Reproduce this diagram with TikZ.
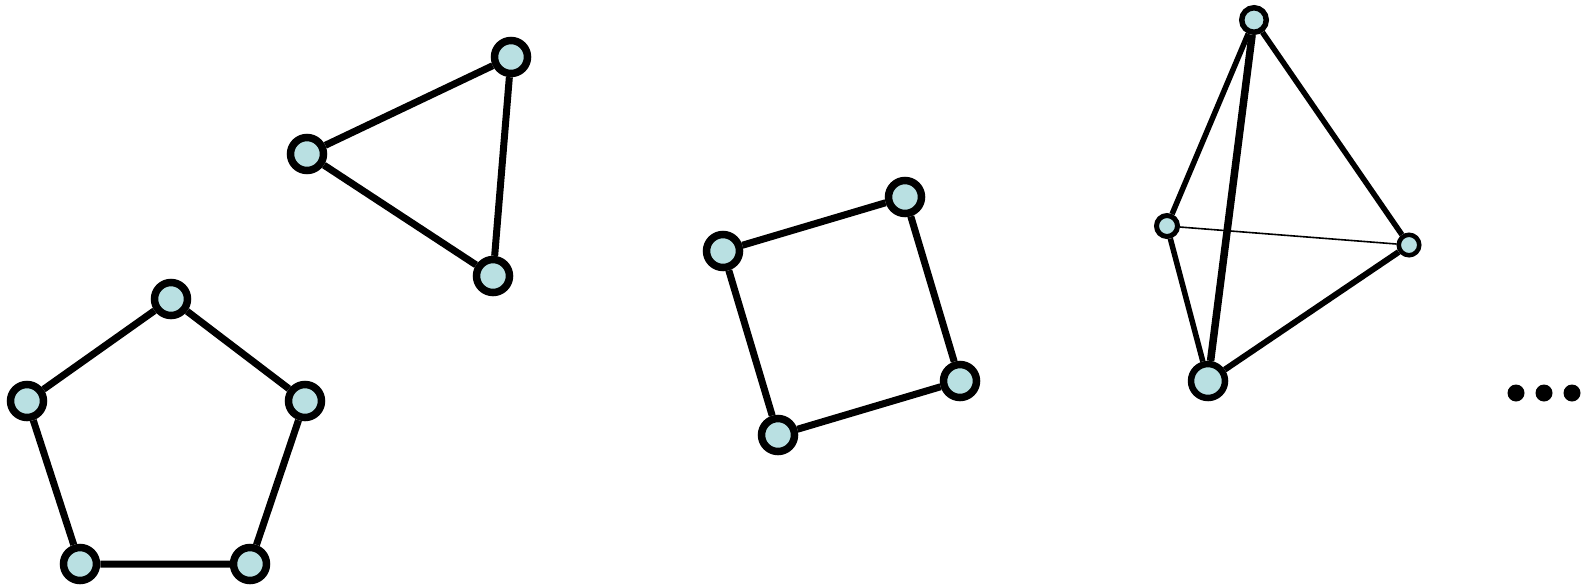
\documentclass[tikz,border=0pt]{standalone}
\definecolor{nodefill}{RGB}{185,224,226}
\begin{document}
\begin{tikzpicture}[x=1pt,y=-1pt,
  vtx/.style={circle,draw=black,fill=nodefill,line width=7.5pt,minimum size=33pt,inner sep=0pt},
  smallvtx/.style={circle,draw=black,fill=nodefill,line width=5pt,minimum size=21pt,inner sep=0pt},
  edge/.style={line width=7pt},
  thinedge/.style={line width=1.6pt},
  dot/.style={circle,fill=black,minimum size=17pt,inner sep=0pt}]
\useasboundingbox (0,0) rectangle (1589,587);
% triangle
\node[vtx] (t1) at (511,57) {};
\node[vtx] (t2) at (307,154) {};
\node[vtx] (t3) at (493,276) {};
\draw[edge] (t1) -- (t2) (t2) -- (t3) (t3) -- (t1);
% pentagon
\node[vtx] (p1) at (171,299) {};
\node[vtx] (p2) at (305,401) {};
\node[vtx] (p3) at (250,564) {};
\node[vtx] (p4) at (80,564) {};
\node[vtx] (p5) at (27,401) {};
\draw[edge] (p1) -- (p2) (p2) -- (p3) (p3) -- (p4) (p4) -- (p5) (p5) -- (p1);
% square
\node[vtx] (s1) at (723,251) {};
\node[vtx] (s2) at (905,197) {};
\node[vtx] (s3) at (960,381) {};
\node[vtx] (s4) at (778,435) {};
\draw[edge] (s1) -- (s2) (s2) -- (s3) (s3) -- (s4) (s4) -- (s1);
% tetrahedron
\node[smallvtx,line width=5.5pt,minimum size=24.5pt] (k1) at (1254,20) {};
\node[smallvtx] (k2) at (1167,226) {};
\node[smallvtx,line width=4.5pt,minimum size=20.5pt] (k3) at (1409,245) {};
\node[vtx,line width=6.5pt,minimum size=34pt] (k4) at (1208,381) {};
\draw[line width=5.5pt] (k1) -- (k2);
\draw[line width=7.5pt] (k1) -- (k4);
\draw[line width=5.5pt] (k1) -- (k3);
\draw[thinedge] (k2) -- (k3);
\draw[line width=5.5pt] (k2) -- (k4);
\draw[line width=6pt] (k4) -- (k3);
% dots
\node[dot] (d1) at (1516,393) {};
\node[dot] (d2) at (1544,393) {};
\node[dot] (d3) at (1572,393) {};
\end{tikzpicture}
\end{document}
